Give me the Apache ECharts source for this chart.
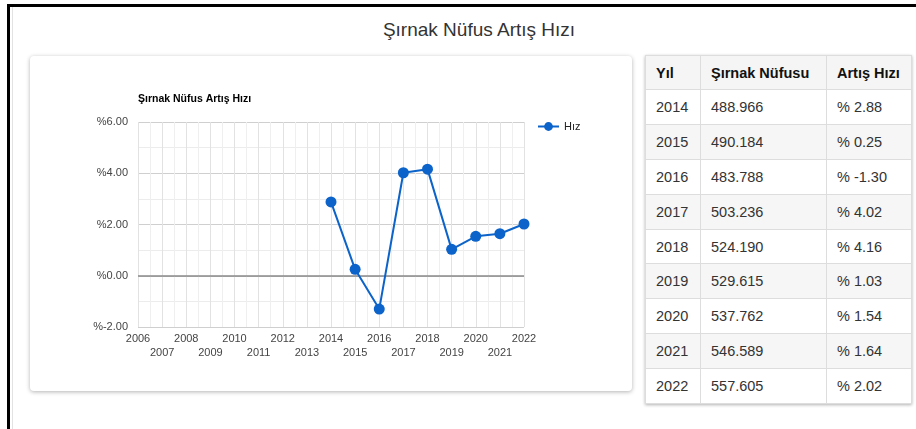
<!DOCTYPE html>
<html>
<head>
<meta charset="utf-8">
<script src="https://cdn.jsdelivr.net/npm/echarts@6/dist/echarts.min.js"></script>
<style>
    body { margin: 0; background: #fff; font-family: "Liberation Sans", Arial, sans-serif; }
    #frame { position: absolute; left: 7px; top: 4px; width: 920px; height: 440px;
             border-top: 3px solid #000; border-left: 3px solid #000; }
    #inner { position: absolute; left: 12px; top: 7px; width: 1px; height: 430px; background: #e2e2e2; }
    #title { position: absolute; left: 0; width: 958px; top: 19px; text-align: center;
             font-size: 19px; color: #333; }
    #card { position: absolute; left: 30px; top: 56px; width: 602px; height: 335px;
            border-radius: 4px; box-shadow: 0 1px 4px rgba(0,0,0,0.3); background: #fff; }
    #chart { width: 602px; height: 335px; }
    #tbl { position: absolute; left: 645px; top: 55px; width: 266px; table-layout: fixed;
           border-collapse: collapse; box-shadow: 0 1px 3px rgba(0,0,0,0.3);
           font-size: 14.5px; color: #333; }
    #tbl th, #tbl td { border: 1px solid #ddd; padding: 0 0 0 10px; text-align: left;
                       box-sizing: border-box; overflow: hidden; white-space: nowrap; }
    #tbl th { background: #f5f5f5; color: #111; font-weight: bold; height: 34px; }
    #tbl td { height: 34.9px; }
    #tbl tbody tr:nth-child(even) td { background: #f6f6f6; }
</style>
</head>
<body>
<div id="frame"></div>
<div id="inner"></div>
<div id="title">Şırnak Nüfus Artış Hızı</div>
<div id="card"><div id="chart"></div></div>
<table id="tbl"><thead></thead><tbody></tbody></table>
<script>
    // veriler
    var years = [2014, 2015, 2016, 2017, 2018, 2019, 2020, 2021, 2022];
    var population = [488966, 490184, 483788, 503236, 524190, 529615, 537762, 546589, 557605];
    var rates = [2.88, 0.25, -1.30, 4.02, 4.16, 1.03, 1.54, 1.64, 2.02];
    var headers = ["Yıl", "Şırnak Nüfusu", "Artış Hızı"];
    var colWidths = [55, 126, 85];

    function formatPop(n) {
        return String(n).replace(/\B(?=(\d{3})+(?!\d))/g, ".");
    }

    // tablo
    var thead = document.querySelector("#tbl thead");
    var tbody = document.querySelector("#tbl tbody");
    var hr = "<tr>";
    headers.forEach(function(h, i) {
        hr += '<th style="width:' + colWidths[i] + 'px">' + h + "</th>";
    });
    thead.innerHTML = hr + "</tr>";
    var rows = "";
    years.forEach(function(y, i) {
        rows += "<tr><td>" + y + "</td><td>" + formatPop(population[i]) + "</td><td>% " + rates[i].toFixed(2) + "</td></tr>";
    });
    tbody.innerHTML = rows;

    // grafik
    var myChart = echarts.init(document.getElementById("chart"));
    var lineColor = "#0c63c9";

    // iki sıra etiket için aynı eksen iki kez (çift / tek yıllar)
    function yearAxis(even, margin, showGrid) {
        return {
            type: "value",
            position: "bottom", offset: 0,
            min: 2006, max: 2022, interval: 1,
            axisLine: { show: false },
            axisTick: { show: false },
            splitLine: { show: showGrid, lineStyle: { color: "#e2e2e2" } },
            minorTick: { show: false, splitNumber: 2 },
            minorSplitLine: { show: showGrid, lineStyle: { color: "#efefef" } },
            axisLabel: {
                margin: margin, fontSize: 11, color: "#444",
                showMinLabel: true, showMaxLabel: true, hideOverlap: false,
                formatter: function(v) { return (v % 2 === 0) === even ? String(v) : ""; }
            }
        };
    }

    myChart.setOption({
        animation: false,
        textStyle: { fontFamily: "Liberation Sans, Arial, sans-serif" },
        title: {
            text: "Şırnak Nüfus Artış Hızı",
            left: 103, top: 33,
            textStyle: { fontSize: 10.5, fontWeight: "bold", color: "#000" }
        },
        legend: {
            left: 502, top: 60,
            itemWidth: 21, itemHeight: 11, itemGap: 5,
            textStyle: { fontSize: 11, color: "#222" },
            data: ["Hız"]
        },
        grid: { left: 108, right: 108, top: 66, bottom: 64 },
        xAxis: [yearAxis(true, 6, true), yearAxis(false, 20, false)],
        yAxis: {
            type: "value",
            min: -2, max: 6, interval: 2,
            axisLine: { show: false },
            axisTick: { show: false },
            splitLine: { lineStyle: { color: "#cfcfcf" } },
            minorTick: { show: false, splitNumber: 2 },
            minorSplitLine: { show: true, lineStyle: { color: "#ececec" } },
            axisLabel: {
                margin: 10, fontSize: 11, color: "#444",
                formatter: function(v) { return "%" + v.toFixed(2); }
            }
        },
        series: [{
            name: "Hız",
            type: "line",
            xAxisIndex: 0,
            data: years.map(function(y, i) { return [y, rates[i]]; }),
            symbol: "circle",
            symbolSize: 11,
            color: lineColor,
            lineStyle: { width: 2, color: lineColor },
            itemStyle: { color: lineColor },
            z: 3,
            markLine: {
                silent: true, symbol: "none", z: 1,
                label: { show: false },
                lineStyle: { color: "#8a8a8a", type: "solid", width: 1.5 },
                data: [{ yAxis: 0 }]
            }
        }]
    });
</script>
</body>
</html>
